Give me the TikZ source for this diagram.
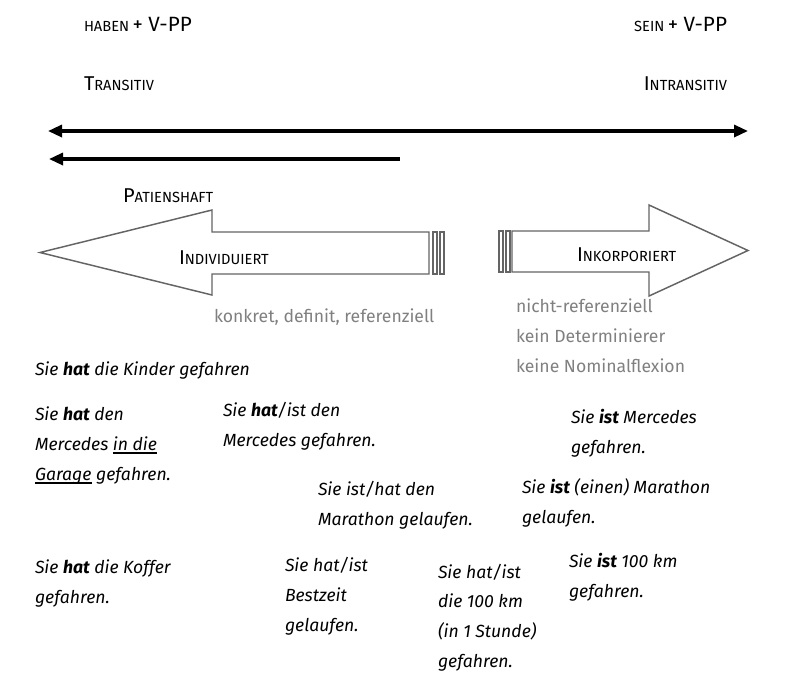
\documentclass[tikz,border=0pt]{standalone}
\usepackage{fontspec}
\setmainfont{Fira Sans}
\usetikzlibrary{arrows.meta}
\definecolor{txtgray}{RGB}{128,128,128}
\definecolor{arrgray}{RGB}{100,100,100}
\newcommand\fsc[2]{{\fontsize{15}{18}\selectfont #1}{\fontsize{11}{13}\selectfont #2}}
\newsavebox\ulbox
\newcommand\ulin[1]{\sbox\ulbox{#1}\rlap{\rule[-3.2pt]{\wd\ulbox}{2pt}}\usebox\ulbox}
\begin{document}
\begin{tikzpicture}[x=0.75pt,y=-0.75pt,
  every node/.style={inner sep=0pt, outer sep=0pt},
  ex/.style={anchor=base west, font=\fontsize{13.2}{15}\selectfont\itshape},
  gr/.style={anchor=base west, text=txtgray, font=\fontsize{13.2}{15}\selectfont},
  sc/.style={anchor=base west},
  scr/.style={anchor=base east},
  bigarrow/.style={line width=2.4pt},
  block/.style={draw=arrgray, line width=1.1pt, fill=white, line join=miter}]
\useasboundingbox (0,0) rectangle (812,687);

% top labels
\node[sc] (haben) at (84,31) {{\fontsize{11}{13}\selectfont HABEN} {\fontsize{15.5}{18}\selectfont + V-PP}};
\node[scr] (sein) at (727,31) {{\fontsize{11}{13}\selectfont SEIN} {\fontsize{15.5}{18}\selectfont + V-PP}};
\node[sc] (trans) at (84,90) {\fsc{T}{RANSITIV}};
\node[scr] (intrans) at (727,90) {\fsc{I}{NTRANSITIV}};

% long arrows
\coordinate (a1l) at (48,131);
\coordinate (a1r) at (748,131);
\coordinate (a2l) at (49,159);
\coordinate (a2r) at (400,159);
\draw[bigarrow, {Triangle[length=10.5pt,width=9pt]}-{Triangle[length=10.5pt,width=9pt]}] (a1l) -- (a1r);
\draw[bigarrow, {Triangle[length=10.5pt,width=9pt]}-] (a2l) -- (a2r);

% block arrows
\draw[block] (40,252.5) -- (212,210) -- (212,232) -- (429,232) -- (429,274) -- (212,274) -- (212,295) -- cycle;
\draw[block] (433,232) rectangle (437,274);
\draw[block] (440,232) rectangle (444,274);

\draw[block] (512,231) -- (649,231) -- (649,205) -- (748,250.5) -- (649,296) -- (649,272) -- (512,272) -- cycle;
\draw[block] (499,231) rectangle (503,272);
\draw[block] (506,231) rectangle (510,272);

\node[sc] (pat) at (123,202) {\fsc{P}{ATIENSHAFT}};
\node[sc] (indiv) at (179,264) {\fsc{I}{NDIVIDUIERT}};
\node[sc] (inkorp) at (577,261) {\fsc{I}{NKORPORIERT}};

% gray descriptions
\node[gr] (konk) at (214,322) {konkret, definit, referenziell};
\node[gr] (nr1) at (516,312) {nicht-referenziell};
\node[gr] (nr2) at (516,342) {kein Determinierer};
\node[gr] (nr3) at (516,372) {keine Nominalflexion};

% examples
\node[ex] (e1) at (35,375) {Sie \textbf{hat} die Kinder gefahren};

\node[ex] (e2a) at (35,420) {Sie \textbf{hat} den};
\node[ex] (e2b) at (35,450) {Mercedes \ulin{in die}};
\node[ex] (e2c) at (35,480) {\ulin{Garage} gefahren.};

\node[ex] (e3a) at (223,416) {Sie \textbf{hat}/ist den};
\node[ex] (e3b) at (223,446) {Mercedes gefahren.};

\node[ex] (e4a) at (318,495) {Sie ist/hat den};
\node[ex] (e4b) at (318,525) {Marathon gelaufen.};

\node[ex] (e5a) at (571,423) {Sie \textbf{ist} Mercedes};
\node[ex] (e5b) at (571,453) {gefahren.};

\node[ex] (e6a) at (522,493) {Sie \textbf{ist} (einen) Marathon};
\node[ex] (e6b) at (522,523) {gelaufen.};

\node[ex] (e7a) at (35,573) {Sie \textbf{hat} die Koffer};
\node[ex] (e7b) at (35,603) {gefahren.};

\node[ex] (e8a) at (285,571) {Sie hat/ist};
\node[ex] (e8b) at (285,601) {Bestzeit};
\node[ex] (e8c) at (285,631) {gelaufen.};

\node[ex] (e9a) at (438,578) {Sie hat/ist};
\node[ex] (e9b) at (438,607) {die 100 km};
\node[ex] (e9c) at (438,637) {(in 1 Stunde)};
\node[ex] (e9d) at (438,667) {gefahren.};

\node[ex] (e10a) at (569,567) {Sie \textbf{ist} 100 km};
\node[ex] (e10b) at (569,597) {gefahren.};
\end{tikzpicture}
\end{document}
